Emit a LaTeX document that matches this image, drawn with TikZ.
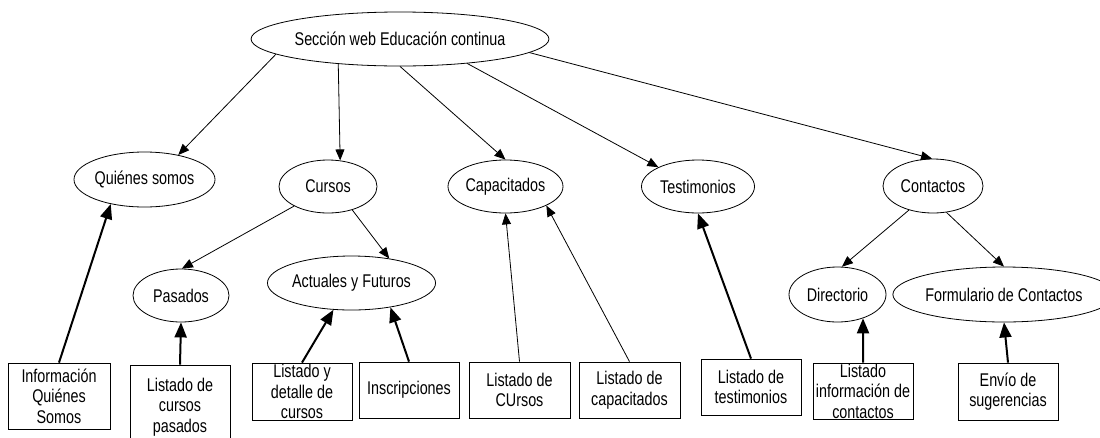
\documentclass[tikz,border=0pt]{standalone}
\usepackage{fontspec}
\usetikzlibrary{shapes.geometric,arrows.meta}
\newfontfamily\labelfont[FakeStretch=0.78]{Liberation Sans}
\begin{document}
\begin{tikzpicture}[x=1pt,y=-1pt,
  every node/.style={font=\labelfont\fontsize{18.4}{20.5}\selectfont,align=center,inner sep=0pt},
  topic/.style={ellipse,draw,line width=0.8pt},
  page/.style={rectangle,draw,line width=0.8pt},
  thinarrow/.style={-{Triangle[length=11pt,width=9pt]},line width=0.8pt},
  thickarrow/.style={-{Triangle[length=15pt,width=12pt]},line width=2pt}]
\clip (0,0) rectangle (1100,437);
\fill[white] (0,0) rectangle (1100,437);

% main section and its topics
\node[topic,minimum width=244pt,minimum height=54pt] (root) at (400,39) {Sección web Educación continua};
\node[topic,minimum width=135pt,minimum height=55pt] (quienes) at (144.5,179.5) {Quiénes somos};
\node[topic,minimum width=98pt,minimum height=53pt] (cursos) at (328,186.5) {Cursos};
\node[topic,minimum width=115pt,minimum height=53pt] (capac) at (505.5,186.5) {Capacitados};
\node[topic,minimum width=113pt,minimum height=53pt] (testim) at (698,186.5) {Testimonios};
\node[topic,minimum width=100pt,minimum height=54pt] (contac) at (933,186) {Contactos};
\node[topic,minimum width=96pt,minimum height=53pt] (pasados) at (181,295.5) {Pasados};
\node[topic,minimum width=153pt,minimum height=54pt] (actuales) at (351.5,283) {Actuales y Futuros};
\node[topic,minimum width=97pt,minimum height=55pt] (direct) at (837.5,294.5) {Directorio};
\node[topic,minimum width=190pt,minimum height=55pt] (formul) at (1004,294.5) {Formulario de Contactos};

% content pages
\node[page,minimum width=102pt,minimum height=66pt] (info) at (59,396) {Información\\Quiénes\\Somos};
\node[page,minimum width=100pt,minimum height=84pt] (lpas) at (180,407) {Listado de\\cursos\\pasados};
\node[page,minimum width=100pt,minimum height=57pt] (ldet) at (302,391.5) {Listado y\\detalle de\\cursos};
\node[page,minimum width=100pt,minimum height=56pt] (insc) at (409,390) {Inscripciones};
\node[page,minimum width=101pt,minimum height=56pt] (lcur) at (519.5,390) {Listado de\\CUrsos};
\node[page,minimum width=101pt,minimum height=56pt] (lcap) at (629.5,390) {Listado de\\capacitados};
\node[page,minimum width=100pt,minimum height=56pt] (ltes) at (751,387) {Listado de\\testimonios};
\node[page,minimum width=100pt,minimum height=56pt] (linf) at (863,391) {Listado\\información de\\contactos};
\node[page,minimum width=100pt,minimum height=57pt] (lenv) at (1008,391.5) {Envío de\\sugerencias};

% hierarchy
\draw[thinarrow] (root.187) -- (quienes.36);
\draw[thinarrow] (root.202) -- (cursos.65);
\draw[thinarrow] (root.270) -- (capac.90);
\draw[thinarrow] (root.340) -- (testim.154);
\draw[thinarrow] (root.354) -- (contac.92);
\draw[thinarrow] (cursos.210) -- (pasados.88);
\draw[thinarrow] (cursos.316) -- (actuales.33);
\draw[thinarrow] (contac.225) -- (direct.81);
\draw[thinarrow] (contac.297) -- (formul.90);

% pages linked to their topics
\draw[thickarrow] (info.north) -- (quienes.216);
\draw[thickarrow] (lpas.north) -- (pasados.south);
\draw[thickarrow] (ldet.north) -- (actuales.236);
\draw[thickarrow] (insc.north) -- (actuales.328);
\draw[thinarrow] (lcur.north) -- (capac.270);
\draw[thinarrow] (lcap.north) -- (capac.335);
\draw[thickarrow] (ltes.north) -- (testim.270);
\draw[thickarrow] (linf.north) -- (direct.317);
\draw[thickarrow] (lenv.north) -- (formul.270);
\end{tikzpicture}
\end{document}
